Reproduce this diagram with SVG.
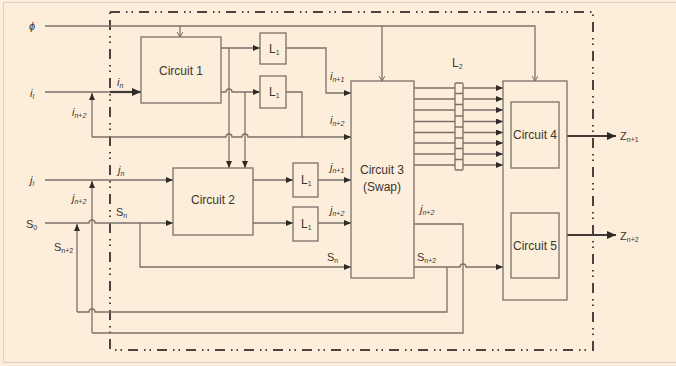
<svg xmlns="http://www.w3.org/2000/svg" width="676" height="366" viewBox="0 0 676 366">
<style>
.bg{fill:#fdeedb}
.box{fill:none;stroke:#7a7168;stroke-width:1.3}
.ln{fill:none;stroke:#7a7168;stroke-width:1.3}
.thk{fill:none;stroke:#3f3a35;stroke-width:2.2}
.frame{fill:none;stroke:#4a443e;stroke-width:2;stroke-dasharray:10 6 1.5 4 1.5 6}
text{font-family:"Liberation Sans",Arial,sans-serif;fill:#3a3530}
.lbl{font-size:12px}
.t{font-size:11px}
.it{font-style:italic}
.sub{font-size:7px}
</style>
<defs>
<marker id="arr" markerUnits="userSpaceOnUse" markerWidth="8" markerHeight="7" refX="7" refY="3" orient="auto"><path d="M0,0 L7,3 L0,6 z" fill="#2e2a26"/></marker>
<marker id="arrB" markerUnits="userSpaceOnUse" markerWidth="10" markerHeight="9" refX="9" refY="4" orient="auto"><path d="M0,0 L9,4 L0,8 z" fill="#2e2a26"/></marker>
<marker id="varr" markerUnits="userSpaceOnUse" markerWidth="7" markerHeight="7" refX="5" refY="3" orient="auto"><path d="M0,0 L5,3 L0,6" fill="none" stroke="#7a7168" stroke-width="1"/></marker>
</defs>
<rect class="bg" x="0" y="0" width="676" height="366"/>
<rect x="3.5" y="2.5" width="680" height="360" fill="#fdeedb" stroke="#d9d2ca" stroke-width="1"/>
<rect class="frame" x="110" y="12" width="483" height="338"/>

<g id="connectors">
<path class="ln" d="M45,26 H535 V81" marker-end="url(#varr)"/>
<path class="ln" d="M180,26 V37" marker-end="url(#varr)"/>
<path class="ln" d="M382,26 V81" marker-end="url(#varr)"/>
<path class="ln" d="M45,92 H110"/>
<path class="thk" d="M110,92 H141" marker-end="url(#arrB)"/>
<path class="ln" d="M92,137 V93" marker-end="url(#arr)"/>
<path class="ln" d="M92,137 H226 A3,3 0 0 1 232,137 H242 A3,3 0 0 1 248,137 H302 V92 H286"/>
<path class="ln" d="M302,137 H351" marker-end="url(#arr)"/>
<path class="ln" d="M221,48 H260" marker-end="url(#arr)"/>
<path class="ln" d="M221,92 H226 A3,3 0 0 1 232,92 H260" marker-end="url(#arr)"/>
<path class="ln" d="M229,48 V168" marker-end="url(#arr)"/>
<path class="ln" d="M245,92 V168" marker-end="url(#arr)"/>
<path class="ln" d="M286,48 H326 V93 H351" marker-end="url(#arr)"/>
<path class="ln" d="M45,180 H173" marker-end="url(#arr)"/>
<path class="ln" d="M92,333 V181" marker-end="url(#arr)"/>
<path class="ln" d="M45,223 H89 A3,3 0 0 1 95,223 H173" marker-end="url(#arr)"/>
<path class="ln" d="M77,312 V224" marker-end="url(#arr)"/>
<path class="ln" d="M77,312 H89 A3,3 0 0 1 95,312 H447 V267"/>
<path class="ln" d="M92,333 H463 V224 H414"/>
<path class="ln" d="M140,223 V267 H351" marker-end="url(#arr)"/>
<path class="ln" d="M253,180 H293" marker-end="url(#arr)"/>
<path class="ln" d="M253,223 H293" marker-end="url(#arr)"/>
<path class="ln" d="M318,180 H351" marker-end="url(#arr)"/>
<path class="ln" d="M318,223 H351" marker-end="url(#arr)"/>
<path class="ln" d="M414,267 H460 A3,3 0 0 1 466,267 H503" marker-end="url(#arr)"/>
<path class="ln" d="M414,88 H455 M414,99 H455 M414,110 H455 M414,121.5 H455 M414,132.5 H455 M414,143 H455 M414,154 H455 M414,165 H455"/>
<path class="ln" d="M463,88 H503" marker-end="url(#arr)"/>
<path class="ln" d="M463,99 H503" marker-end="url(#arr)"/>
<path class="ln" d="M463,110 H503" marker-end="url(#arr)"/>
<path class="ln" d="M463,121.5 H503" marker-end="url(#arr)"/>
<path class="ln" d="M463,132.5 H503" marker-end="url(#arr)"/>
<path class="ln" d="M463,143 H503" marker-end="url(#arr)"/>
<path class="ln" d="M463,154 H503" marker-end="url(#arr)"/>
<path class="ln" d="M463,165 H503" marker-end="url(#arr)"/>
<path class="thk" d="M567,136 H616" marker-end="url(#arrB)"/>
<path class="thk" d="M567,235 H616" marker-end="url(#arrB)"/>
</g>

<g id="circuit1"><rect class="box" x="141" y="37" width="80" height="66"/><text class="lbl" x="181" y="75" text-anchor="middle">Circuit 1</text></g>
<g id="l1a"><rect class="box" x="260" y="33" width="26" height="31"/><text class="lbl" x="269" y="53">L<tspan class="sub" dy="2">1</tspan></text></g>
<g id="l1b"><rect class="box" x="260" y="76" width="26" height="32"/><text class="lbl" x="269" y="96">L<tspan class="sub" dy="2">1</tspan></text></g>
<g id="circuit2"><rect class="box" x="173" y="168" width="80" height="67"/><text class="lbl" x="213" y="204" text-anchor="middle">Circuit 2</text></g>
<g id="l1c"><rect class="box" x="293" y="163" width="25" height="34"/><text class="lbl" x="301" y="184">L<tspan class="sub" dy="2">1</tspan></text></g>
<g id="l1d"><rect class="box" x="293" y="207" width="25" height="34"/><text class="lbl" x="301" y="228">L<tspan class="sub" dy="2">1</tspan></text></g>
<g id="circuit3"><rect class="box" x="351" y="81" width="63" height="197"/><text class="lbl" x="382" y="174" text-anchor="middle">Circuit 3</text><text class="lbl" x="382" y="191" text-anchor="middle">(Swap)</text></g>
<g id="l2"><rect class="box" x="455" y="83" width="8" height="87" rx="1"/><path class="ln" d="M455,93.5 H463 M455,104.5 H463 M455,116 H463 M455,127 H463 M455,138 H463 M455,148.5 H463 M455,159.5 H463"/><text class="lbl" x="452" y="67">L<tspan class="sub" dy="2">2</tspan></text></g>
<g id="circuit45"><rect class="box" x="503" y="81" width="64" height="219"/></g>
<g id="circuit4"><rect class="box" x="511" y="102" width="48" height="66"/><text class="lbl" x="535" y="139" text-anchor="middle">Circuit 4</text></g>
<g id="circuit5"><rect class="box" x="511" y="213" width="48" height="65"/><text class="lbl" x="535" y="250" text-anchor="middle">Circuit 5</text></g>

<g id="labels">
<text class="t it" x="29" y="30">ϕ</text>
<text class="t it" x="30" y="97">i<tspan class="sub" dy="2">l</tspan></text>
<text class="t it" x="30" y="184">j<tspan class="sub" dy="2">l</tspan></text>
<text class="t" x="26" y="228">S<tspan class="sub" dy="2">0</tspan></text>
<text class="t it" x="117" y="86">i<tspan class="sub" dy="2">n</tspan></text>
<text class="t it" x="72" y="116">i<tspan class="sub" dy="2">n+2</tspan></text>
<text class="t it" x="118" y="174">j<tspan class="sub" dy="2">n</tspan></text>
<text class="t it" x="72" y="202">j<tspan class="sub" dy="2">n+2</tspan></text>
<text class="t" x="116" y="216">S<tspan class="sub" dy="2">n</tspan></text>
<text class="t" x="54" y="251">S<tspan class="sub" dy="2">n+2</tspan></text>
<text class="t it" x="330" y="80">i<tspan class="sub" dy="2">n+1</tspan></text>
<text class="t it" x="330" y="124">i<tspan class="sub" dy="2">n+2</tspan></text>
<text class="t it" x="330" y="171">j<tspan class="sub" dy="2">n+1</tspan></text>
<text class="t it" x="330" y="214">j<tspan class="sub" dy="2">n+2</tspan></text>
<text class="t" x="327" y="261">S<tspan class="sub" dy="2">n</tspan></text>
<text class="t it" x="420" y="213">j<tspan class="sub" dy="2">n+2</tspan></text>
<text class="t" x="417" y="261">S<tspan class="sub" dy="2">n+2</tspan></text>
<text class="t" x="620" y="140">Z<tspan class="sub" dy="2">n+1</tspan></text>
<text class="t" x="620" y="240">Z<tspan class="sub" dy="2">n+2</tspan></text>
</g>
</svg>
